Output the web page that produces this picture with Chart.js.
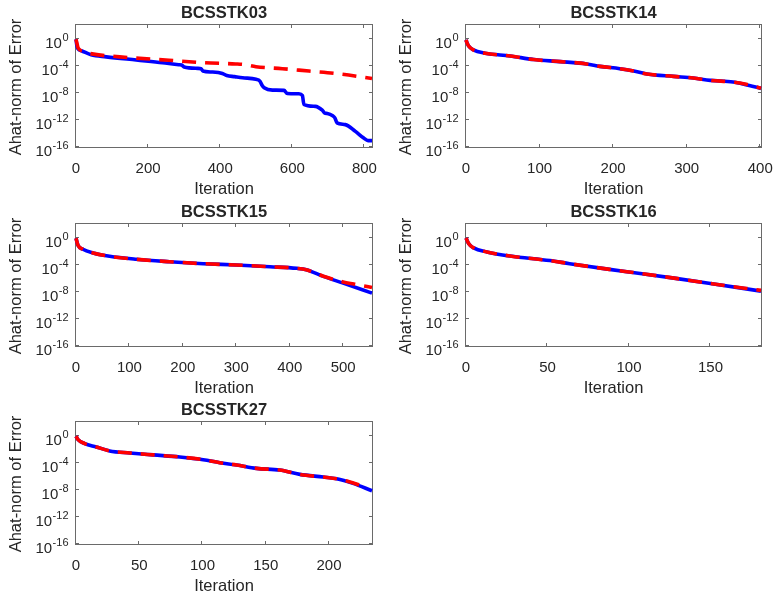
<!DOCTYPE html>
<html>
<head>
<meta charset="utf-8">
<title>Ahat-norm of Error</title>
<script src="https://cdn.jsdelivr.net/npm/chart.js@4.4.1/dist/chart.umd.min.js"></script>
<style>
  html, body { margin: 0; padding: 0; background: #ffffff; }
  #fig { position: relative; width: 775px; height: 594px; background: #ffffff; overflow: hidden; }
  #fig canvas { position: absolute; left: 0; top: 0; }
</style>
</head>
<body>
<div id="fig"></div>
<script>
// ---- Convergence histories (iteration, A-norm error estimate) ----

// BCSSTK03
const it03Solid  = [0, 2, 5, 15, 42, 84, 167, 240, 285, 293, 300, 337, 347, 352, 378, 406, 418, 440, 462, 499, 510, 516, 522, 545, 577, 586, 618, 628, 632, 664, 683, 690, 697, 712, 718, 724, 747, 775, 798, 810, 821];
const err03Solid = [0.79, 0.126, 3.2e-2, 1.6e-2, 4.0e-3, 2.0e-3, 6.9e-4, 2.75e-4, 1.4e-4, 1.26e-4, 6.3e-5, 4.0e-5, 3.5e-5, 1.6e-5, 1.15e-5, 7.2e-6, 3.5e-6, 2.4e-6, 1.66e-6, 1.0e-6, 5.4e-7, 1.26e-7, 5.5e-8, 2.5e-8, 2.24e-8, 7.9e-9, 7.1e-9, 4.0e-9, 2.0e-10, 1.0e-10, 2.7e-11, 1.0e-11, 8.7e-12, 4.0e-12, 2.0e-12, 3.6e-13, 2.0e-13, 2.0e-14, 2.1e-15, 8.7e-16, 8.7e-16];
const it03Dash   = [0, 3, 6, 20, 38, 121, 258, 351, 443, 470, 499, 572, 646, 720, 821];
const err03Dash  = [0.79, 0.16, 4.0e-2, 1.26e-2, 6.3e-3, 2.0e-3, 6.3e-4, 2.75e-4, 1.8e-4, 1.4e-4, 7.1e-5, 3.6e-5, 1.6e-5, 7.2e-6, 1.3e-6];

// BCSSTK14
const it14Solid  = [0, 1, 3.6, 10, 26, 60, 92, 128, 164, 182, 209, 228, 246, 282, 309, 332, 363, 379, 401];
const err14Solid = [0.63, 0.3, 8.1e-2, 2.1e-2, 6.8e-3, 2.7e-3, 7.9e-4, 4.0e-4, 1.8e-4, 7.9e-5, 3.6e-5, 1.6e-5, 5.9e-6, 2.6e-6, 1.5e-6, 6.8e-7, 3.8e-7, 1.7e-7, 4.4e-8];
const it14Dash   = [0, 1, 3.6, 10, 26, 60, 92, 128, 164, 182, 209, 228, 246, 282, 309, 332, 363, 379, 401];
const err14Dash  = [0.63, 0.3, 8.1e-2, 2.1e-2, 6.8e-3, 2.7e-3, 7.9e-4, 4.0e-4, 1.8e-4, 7.9e-5, 3.6e-5, 1.6e-5, 5.9e-6, 2.6e-6, 1.5e-6, 6.8e-7, 3.8e-7, 2.0e-7, 4.6e-8];

// BCSSTK15
const it15Solid  = [0, 3.7, 13, 32, 63, 113, 175, 238, 300, 363, 413, 431, 463, 500, 554];
const err15Solid = [0.79, 7.2e-2, 1.86e-2, 5.4e-3, 1.7e-3, 6.2e-4, 2.75e-4, 1.4e-4, 8.9e-5, 5.0e-5, 2.9e-5, 1.8e-5, 1.86e-6, 1.9e-7, 6.3e-9];
const it15Dash   = [0, 3.7, 13, 32, 63, 113, 175, 238, 300, 363, 413, 431, 463, 500, 530, 554];
const err15Dash  = [0.79, 7.2e-2, 1.86e-2, 5.4e-3, 1.7e-3, 6.2e-4, 2.75e-4, 1.4e-4, 8.9e-5, 5.0e-5, 2.9e-5, 1.8e-5, 2.0e-6, 2.8e-7, 1.0e-7, 4.4e-8];

// BCSSTK16
const it16Solid  = [0, 1.6, 4.7, 12.8, 27, 51.4, 63.6, 88, 108, 128.7, 151, 181];
const err16Solid = [0.89, 0.13, 2.95e-2, 7.6e-3, 1.9e-3, 4.0e-4, 1.4e-4, 2.0e-5, 4.7e-6, 9.5e-7, 1.55e-7, 1.26e-8];
const it16Dash   = [0, 1.6, 4.7, 12.8, 27, 51.4, 63.6, 88, 108, 128.7, 151, 181];
const err16Dash  = [0.89, 0.13, 2.95e-2, 7.6e-3, 1.9e-3, 4.0e-4, 1.4e-4, 2.0e-5, 4.7e-6, 9.5e-7, 1.55e-7, 1.6e-8];

// BCSSTK27
const it27Solid  = [0, 1.6, 6.9, 16, 26.6, 42.5, 61, 82, 100.5, 113.7, 127, 142.7, 161, 177, 195.5, 206, 219, 234];
const err27Solid = [0.79, 0.25, 6.5e-2, 2.1e-2, 5.4e-3, 2.7e-3, 1.4e-3, 6.9e-4, 2.75e-4, 1.0e-4, 4.5e-5, 1.45e-5, 8.1e-6, 1.86e-6, 7.6e-7, 4.3e-7, 8.7e-8, 7.1e-9];
const it27Dash   = [0, 1.6, 6.9, 16, 26.6, 42.5, 61, 82, 100.5, 113.7, 127, 142.7, 161, 177, 195.5, 206, 216.6, 224];
const err27Dash  = [0.79, 0.25, 6.5e-2, 2.1e-2, 5.4e-3, 2.7e-3, 1.4e-3, 6.9e-4, 2.75e-4, 1.0e-4, 4.5e-5, 1.45e-5, 8.1e-6, 1.86e-6, 7.6e-7, 4.3e-7, 1.4e-7, 5.0e-8];

// ---- Axis ticks and limits ----
const titles      = ['BCSSTK03', 'BCSSTK14', 'BCSSTK15', 'BCSSTK16', 'BCSSTK27'];
const xTickSets   = [[0, 200, 400, 600, 800], [0, 100, 200, 300, 400], [0, 100, 200, 300, 400, 500], [0, 50, 100, 150], [0, 50, 100, 150, 200]];
const xMaxes      = [821, 401, 554, 181, 234];
const yTickPowers = [0, -4, -8, -12, -16];
const yMin = 1e-16, yMax = 1e2;
const xLabel = 'Iteration';
const yLabel = 'Ahat-norm of Error';

const solidIters = [it03Solid, it14Solid, it15Solid, it16Solid, it27Solid];
const solidErrs  = [err03Solid, err14Solid, err15Solid, err16Solid, err27Solid];
const dashIters  = [it03Dash, it14Dash, it15Dash, it16Dash, it27Dash];
const dashErrs   = [err03Dash, err14Dash, err15Dash, err16Dash, err27Dash];

// ---- Layout: axes boxes on the 775 x 594 figure ----
const W = 775, H = 594;
const boxes = [
  { left: 76,  top: 25,  right: 372, bottom: 147 },
  { left: 466, top: 25,  right: 761, bottom: 147 },
  { left: 76,  top: 224, right: 372, bottom: 346 },
  { left: 466, top: 224, right: 761, bottom: 346 },
  { left: 76,  top: 422, right: 372, bottom: 544 }
];

const FONT = '"Liberation Sans", Arial, Helvetica, sans-serif';
const TEXT_COLOR = '#262626';
const AXIS_COLOR = '#6a6a6a';
const TICK_LEN = 3;

function toPoints(xs, ys) {
  return xs.map((x, i) => ({ x: x, y: ys[i] }));
}

// Boxed axes with inward ticks on all four sides, tick labels, axis titles
function boxedAxes(title, xTicks) {
  return {
    id: 'boxedAxes',
    beforeDatasetsDraw(chart) {
      const { ctx, chartArea: a, scales } = chart;
      const xs = scales.x, ys = scales.y;
      ctx.save();
      ctx.strokeStyle = AXIS_COLOR;
      ctx.lineWidth = 1;
      ctx.strokeRect(a.left - 0.5, a.top - 0.5, a.right - a.left + 1, a.bottom - a.top + 1);
      ctx.beginPath();
      xTicks.forEach(v => {
        const px = Math.round(xs.getPixelForValue(v)) - 0.5;
        ctx.moveTo(px, a.bottom); ctx.lineTo(px, a.bottom - TICK_LEN);
        ctx.moveTo(px, a.top);    ctx.lineTo(px, a.top + TICK_LEN);
      });
      yTickPowers.forEach(p => {
        const py = Math.round(ys.getPixelForValue(Math.pow(10, p))) - 0.5;
        ctx.moveTo(a.left, py);  ctx.lineTo(a.left + TICK_LEN, py);
        ctx.moveTo(a.right, py); ctx.lineTo(a.right - TICK_LEN, py);
      });
      ctx.stroke();
      ctx.restore();
    },
    afterDraw(chart) {
      const { ctx, chartArea: a, scales } = chart;
      const xs = scales.x, ys = scales.y;
      const cx = (a.left + a.right) / 2;
      const cy = (a.top + a.bottom) / 2;
      ctx.save();
      ctx.fillStyle = TEXT_COLOR;
      ctx.textBaseline = 'alphabetic';

      // title
      ctx.font = 'bold 16.5px ' + FONT;
      ctx.textAlign = 'center';
      ctx.fillText(title, cx, a.top - 7.5);

      // x tick labels
      ctx.font = '15px ' + FONT;
      ctx.textAlign = 'center';
      xTicks.forEach(v => {
        ctx.fillText(String(v), xs.getPixelForValue(v), a.bottom + 26);
      });

      // y tick labels: 10 with raised exponent
      const rightEdge = a.left - 7.5;
      yTickPowers.forEach(p => {
        const py = ys.getPixelForValue(Math.pow(10, p));
        const expText = String(p);
        ctx.font = '11px ' + FONT;
        const ew = ctx.measureText(expText).width;
        ctx.textAlign = 'left';
        ctx.fillText(expText, rightEdge - ew, py + 2);
        ctx.font = '15px ' + FONT;
        ctx.textAlign = 'right';
        ctx.fillText('10', rightEdge - ew - 0.5, py + 9.2);
      });

      // axis titles
      ctx.font = '16.5px ' + FONT;
      ctx.textAlign = 'center';
      ctx.fillText(xLabel, cx, a.bottom + 47);
      ctx.translate(a.left - 55.3, cy + 1);
      ctx.rotate(-Math.PI / 2);
      ctx.fillText(yLabel, 0, 0);
      ctx.restore();
    }
  };
}

const fig = document.getElementById('fig');
boxes.forEach((b, k) => {
  const canvas = document.createElement('canvas');
  canvas.width = W; canvas.height = H;
  canvas.style.width = W + 'px'; canvas.style.height = H + 'px';
  fig.appendChild(canvas);

  new Chart(canvas, {
    type: 'line',
    data: {
      datasets: [
        {
          data: toPoints(dashIters[k], dashErrs[k]),
          borderColor: '#ff0000',
          borderWidth: 3.6,
          borderDash: [14, 9],
          borderCapStyle: 'butt',
          borderJoinStyle: 'round',
          pointRadius: 0,
          fill: false,
          cubicInterpolationMode: 'monotone',
          clip: 4
        },
        {
          data: toPoints(solidIters[k], solidErrs[k]),
          borderColor: '#0000ff',
          borderWidth: 3.6,
          borderCapStyle: 'butt',
          borderJoinStyle: 'round',
          pointRadius: 0,
          fill: false,
          cubicInterpolationMode: 'monotone',
          clip: 4
        }
      ]
    },
    options: {
      responsive: false,
      animation: false,
      devicePixelRatio: 1,
      events: [],
      layout: { padding: { left: b.left, top: b.top, right: W - b.right, bottom: H - b.bottom } },
      scales: {
        x: { type: 'linear', display: false, min: 0, max: xMaxes[k] },
        y: { type: 'logarithmic', display: false, min: yMin, max: yMax }
      },
      plugins: {
        legend: { display: false },
        tooltip: { enabled: false },
        title: { display: false }
      }
    },
    plugins: [boxedAxes(titles[k], xTickSets[k])]
  });
});
</script>
</body>
</html>
